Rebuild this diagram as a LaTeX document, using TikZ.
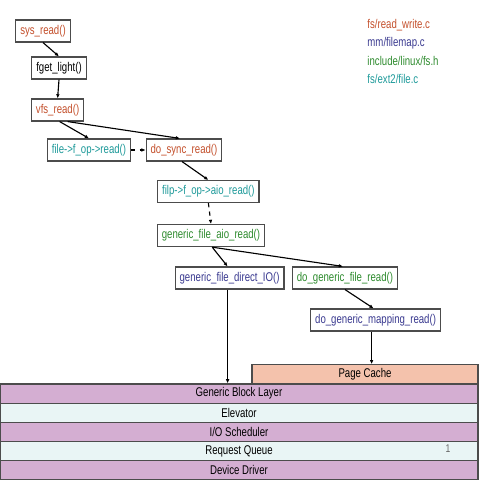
\documentclass[tikz,border=0pt]{standalone}
\usepackage{fontspec}
\setmainfont[FakeStretch=0.76]{Liberation Sans}
\usetikzlibrary{arrows.meta}
\definecolor{rwcol}{HTML}{C4502C}
\definecolor{fmcol}{HTML}{3A3A90}
\definecolor{fscol}{HTML}{2E8B2E}
\definecolor{extcol}{HTML}{1E9A9A}
\definecolor{layerpurple}{HTML}{D4AED2}
\definecolor{layercyan}{HTML}{E9F5F5}
\definecolor{cachecol}{HTML}{F4C2AC}
\tikzset{
  func/.style={draw=black!70, thick, fill=white, font=\fontsize{9}{10}\selectfont,
    inner xsep=0.11cm, minimum height=0.55cm},
  layer/.style={draw=black!70, thick, font=\fontsize{9}{10}\selectfont,
    minimum width=11.95cm, minimum height=0.48cm, inner sep=0pt},
  call/.style={-{Latex[length=3pt,width=2.6pt]}, thick},
  legend/.style={anchor=west, font=\fontsize{9}{10}\selectfont, inner sep=0pt}
}
\begin{document}
\begin{tikzpicture}
  \useasboundingbox (0,0) rectangle (12,12);
  % call chain
  \node [func, text=rwcol] (sysread) at (1.075,11.225) {sys\_read()};
  \node [func] (fget) at (1.475,10.3) {fget\_light()};
  \node [func, text=rwcol] (vfsread) at (1.44,9.25) {vfs\_read()};
  \node [func, text=extcol] (fopread) at (2.225,8.25) {file->f\_op->read()};
  \node [func, text=rwcol] (syncread) at (4.6,8.25) {do\_sync\_read()};
  \node [func, text=extcol] (aioread) at (5.21,7.21) {filp->f\_op->aio\_read()};
  \node [func, text=fscol] (genaio) at (5.275,6.11) {generic\_file\_aio\_read()};
  \node [func, text=fmcol] (directio) at (5.74,5.05) {generic\_file\_direct\_IO()};
  \node [func, text=fscol] (genread) at (8.625,5.05) {do\_generic\_file\_read()};
  \node [func, text=fmcol] (mapread) at (9.39,4.0) {do\_generic\_mapping\_read()};
  % layers
  \node [layer, fill=cachecol, minimum width=5.65cm] (cache) at (9.125,2.64) {Page Cache};
  \node [layer, fill=layerpurple] (block) at (5.975,2.16) {Generic Block Layer};
  \node [layer, fill=layercyan] (elev) at (5.975,1.68) {Elevator};
  \node [layer, fill=layerpurple] (sched) at (5.975,1.2) {I/O Scheduler};
  \node [layer, fill=layercyan] (queue) at (5.975,0.72) {Request Queue};
  \node [layer, fill=layerpurple] (driver) at (5.975,0.24) {Device Driver};
  \node [font=\fontsize{8}{9}\selectfont, text=black!60] (pagenum) at (11.2,0.78) {1};
  % legend
  \node [legend, text=rwcol] (lgrw) at (9.18,11.38) {fs/read\_write.c};
  \node [legend, text=fmcol] (lgfm) at (9.18,10.92) {mm/filemap.c};
  \node [legend, text=fscol] (lgfs) at (9.18,10.47) {include/linux/fs.h};
  \node [legend, text=extcol] (lgext) at (9.18,10.02) {fs/ext2/file.c};
  % connectors
  \draw [call] (sysread.south) -- (fget.north);
  \draw [call] (fget.south) -- (vfsread.north);
  \draw [call] ([xshift=0.05cm]vfsread.south) -- (fopread.north);
  \draw [call] ([xshift=0.25cm]vfsread.south) -- ([xshift=-0.1cm]syncread.north);
  \draw [call, dashed] (fopread.east) -- (syncread.west);
  \draw [call] ([xshift=-0.05cm]syncread.south) -- (aioread.north);
  \draw [call, dashed] (aioread.south) -- (genaio.north);
  \draw [call] ([xshift=0.03cm]genaio.south) -- ([xshift=-0.05cm]directio.north);
  \draw [call] ([xshift=0.03cm]genaio.south) -- ([xshift=-0.05cm]genread.north);
  \draw [call] (genread.south) -- ([xshift=-0.05cm]mapread.north);
  \draw [call] ([xshift=-0.05cm]directio.south) -- ([xshift=-0.05cm]directio.south |- block.north);
  \draw [call] ([xshift=-0.1cm]mapread.south) -- ([xshift=-0.1cm]mapread.south |- cache.north);
\end{tikzpicture}
\end{document}
